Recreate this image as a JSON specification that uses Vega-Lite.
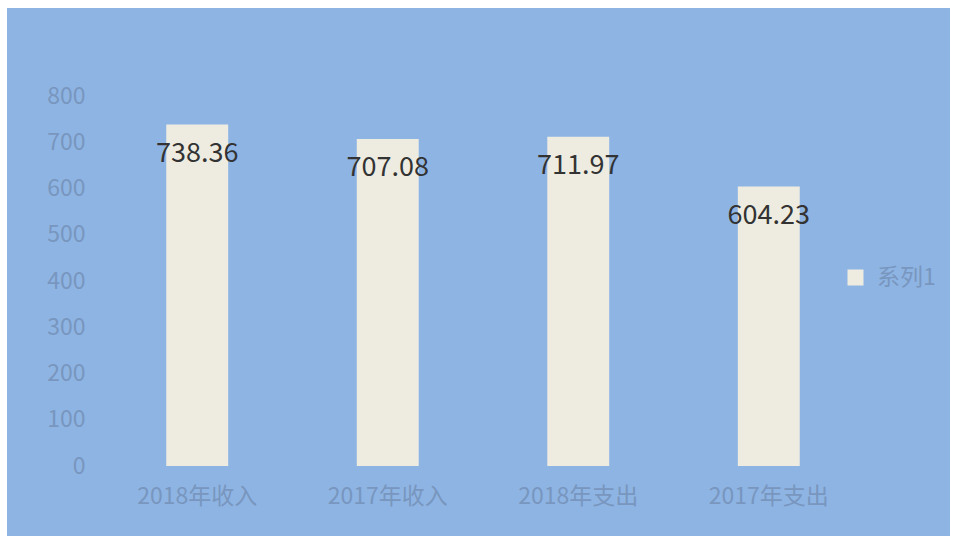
{
  "$schema": "https://vega.github.io/schema/vega-lite/v6.json",
  "width": 943,
  "height": 528,
  "autosize": {"type": "none"},
  "padding": {"left": 7, "top": 8, "right": 5, "bottom": 3},
  "background": "white",
  "config": {
    "view": {"fill": "#8EB4E3", "stroke": null},
    "font": "Noto Sans CJK SC"
  },
  "data": {
    "values": [
      {"category": "2018年收入", "value": 738.36, "series": "系列1"},
      {"category": "2017年收入", "value": 707.08, "series": "系列1"},
      {"category": "2018年支出", "value": 711.97, "series": "系列1"},
      {"category": "2017年支出", "value": 604.23, "series": "系列1"}
    ]
  },
  "encoding": {
    "x": {
      "field": "category",
      "type": "nominal",
      "sort": null,
      "scale": {"range": [64, 888], "paddingInner": 0.675, "paddingOuter": 0.5},
      "axis": {
        "orient": "bottom",
        "offset": -70,
        "title": null,
        "domain": false,
        "ticks": false,
        "labelAngle": 0,
        "labelPadding": 19,
        "labelFontSize": 23,
        "labelColor": "#7896BE",
        "labelFont": "Noto Sans CJK SC"
      }
    },
    "y": {
      "field": "value",
      "type": "quantitative",
      "scale": {"domain": [0, 800], "range": [458, 88], "nice": false, "zero": true},
      "axis": {
        "orient": "left",
        "offset": -78,
        "title": null,
        "domain": false,
        "ticks": false,
        "grid": false,
        "values": [0, 100, 200, 300, 400, 500, 600, 700, 800],
        "labelPadding": 0,
        "labelFontSize": 23,
        "labelColor": "#7896BE",
        "labelFont": "Noto Sans CJK SC"
      }
    }
  },
  "layer": [
    {
      "mark": {"type": "bar"},
      "encoding": {
        "color": {
          "field": "series",
          "type": "nominal",
          "scale": {"range": ["#EEECE1"]},
          "legend": {
            "orient": "none",
            "legendX": 837,
            "legendY": 258,
            "title": null,
            "symbolType": "square",
            "symbolSize": 256,
            "symbolStrokeWidth": 0,
            "labelFontSize": 23,
            "labelColor": "#7896BE",
            "labelOffset": 10,
            "labelFont": "Noto Sans CJK SC"
          }
        }
      }
    },
    {
      "mark": {"type": "text", "baseline": "middle", "align": "center", "dy": 29, "fontSize": 27, "color": "#333333", "font": "Noto Sans CJK SC"},
      "encoding": {
        "text": {"field": "value", "type": "quantitative", "format": ".2f"}
      }
    }
  ]
}
